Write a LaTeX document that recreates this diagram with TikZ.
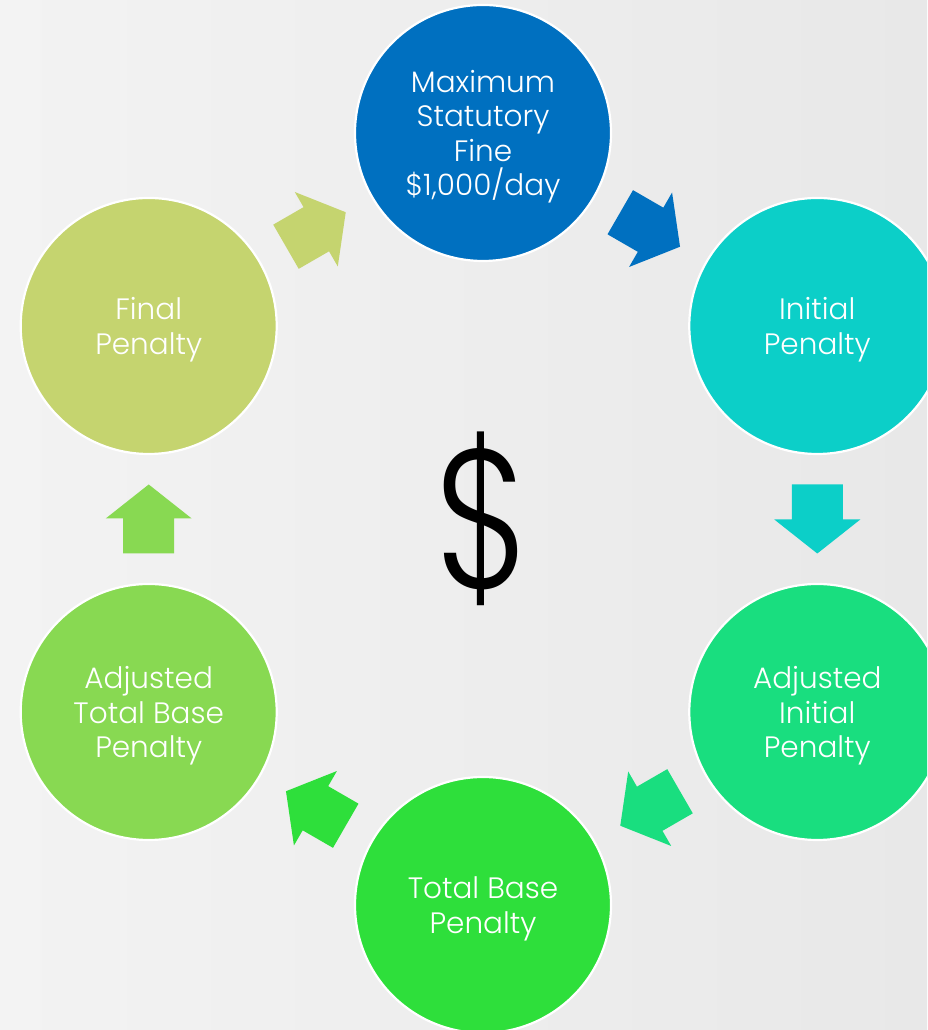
\documentclass[tikz,border=0pt]{standalone}
\usepackage{fontspec}
\IfFontExistsTF{Poppins Light}{\setmainfont{Poppins Light}}{\setmainfont{Poppins}}
\usetikzlibrary{calc}
\definecolor{cTop}{HTML}{0070C0}
\definecolor{cRT}{HTML}{0CCFC8}
\definecolor{cRB}{HTML}{19DE7F}
\definecolor{cB}{HTML}{2EDF3B}
\definecolor{cLB}{HTML}{88D952}
\definecolor{cLT}{HTML}{C5D46F}
\definecolor{bgL}{HTML}{F3F3F3}
\definecolor{bgR}{HTML}{E8E8E8}
\tikzset{
  stage/.style={circle, draw=white, line width=2.2pt, minimum size=256pt, inner sep=0pt,
    text=white, align=center, text depth=0pt, font=\fontsize{29.5}{34.5}\selectfont},
}
\newcommand{\blockarrow}[4]{% from, to, angle, color
  \begin{scope}[shift={($(#1)!0.5!(#2)$)}, rotate=#3]
    \fill[#4] (-34.5,-25.5) -- (0.5,-25.5) -- (0.5,-43) -- (34.5,0) -- (0.5,43) -- (0.5,25.5) -- (-34.5,25.5) -- cycle;
  \end{scope}}
\begin{document}
\begin{tikzpicture}[x=1pt,y=1pt]
\useasboundingbox (0,0) rectangle (927,1030);
\clip (0,0) rectangle (927,1030);
\shade[left color=bgL, right color=bgR] (0,0) rectangle (927,1030);
\coordinate (hub) at (483,511);
\node[stage, fill=cTop] (top) at ($(hub)+(90:386)$) {Maximum\\Statutory\\Fine\\\$1,000/day};
\node[stage, fill=cRT] (rt) at ($(hub)+(30:386)$) {Initial\\Penalty};
\node[stage, fill=cRB] (rb) at ($(hub)+(-30:386)$) {Adjusted\\Initial\\Penalty};
\node[stage, fill=cB] (bot) at ($(hub)+(-90:386)$) {Total Base\\Penalty};
\node[stage, fill=cLB] (lb) at ($(hub)+(210:386)$) {Adjusted\\Total Base\\Penalty};
\node[stage, fill=cLT] (lt) at ($(hub)+(150:386)$) {Final\\Penalty};
\blockarrow{top}{rt}{-30}{cTop}
\blockarrow{rt}{rb}{-90}{cRT}
\blockarrow{rb}{bot}{-150}{cRB}
\blockarrow{bot}{lb}{150}{cB}
\blockarrow{lb}{lt}{90}{cLB}
\blockarrow{lt}{top}{30}{cLT}
\node[font=\fontsize{198}{198}\selectfont, inner sep=0pt] (dollar) at (hub) {\scalebox{0.82}[1]{\$}};
\end{tikzpicture}
\end{document}
